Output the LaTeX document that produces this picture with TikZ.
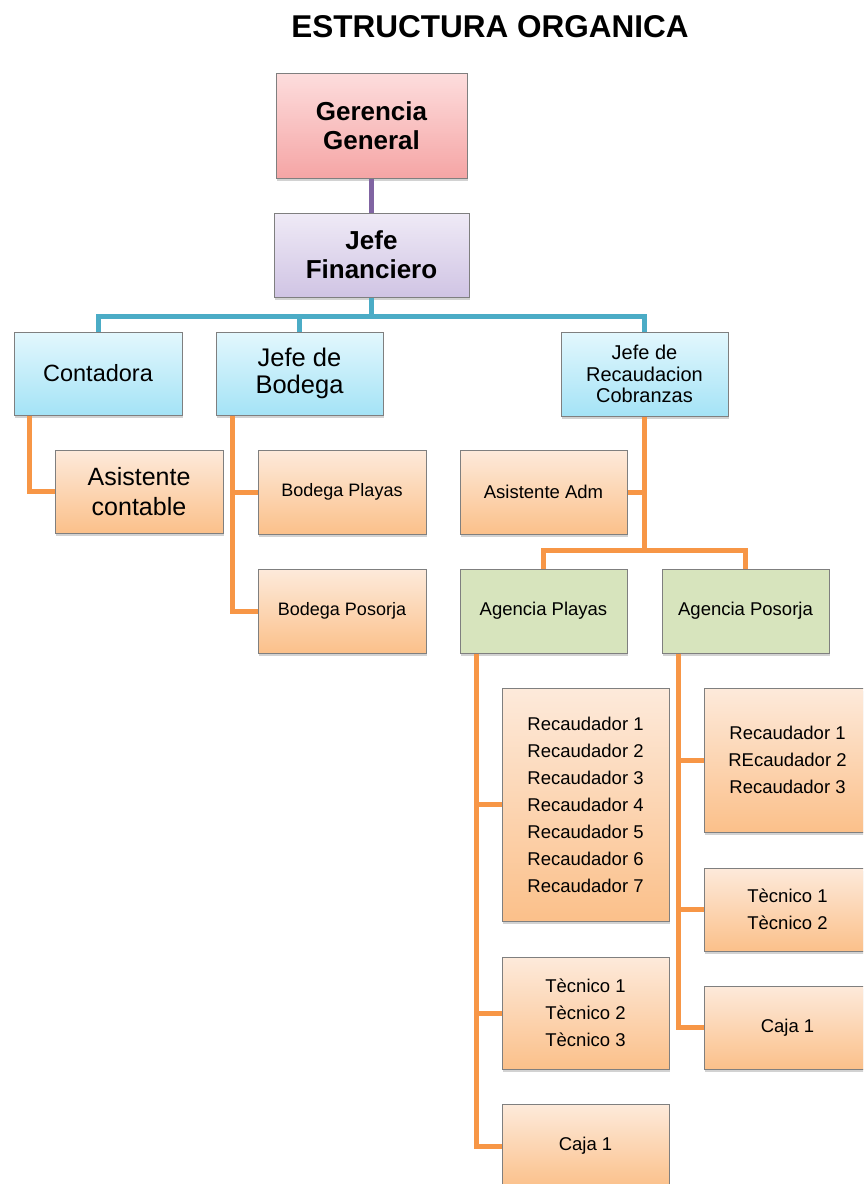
\documentclass[tikz,border=0pt]{standalone}
\usepackage{fontspec}
\setmainfont{Liberation Sans}
\usetikzlibrary{shadows}

\definecolor{boxedge}{HTML}{7F7F7F}
\definecolor{linkblue}{HTML}{4BACC6}
\definecolor{linkorange}{HTML}{F79646}
\definecolor{linkpurple}{HTML}{8064A2}
\definecolor{pinktop}{HTML}{FDDDDD}
\definecolor{pinkbot}{HTML}{F5A5A5}
\definecolor{lavtop}{HTML}{EFEAF6}
\definecolor{lavbot}{HTML}{D0C4E4}
\definecolor{bluetop}{HTML}{E3F7FD}
\definecolor{bluebot}{HTML}{A4E3F6}
\definecolor{orgtop}{HTML}{FDEADB}
\definecolor{orgbot}{HTML}{FBC08A}
\definecolor{greenfill}{HTML}{D7E4BD}

\begin{document}
\begin{tikzpicture}[x=1pt,y=-1pt,
  box/.style={rectangle, draw=boxedge, line width=1pt, align=center, inner sep=2pt,
    minimum width=167pt, minimum height=84pt,
    drop shadow={shadow xshift=1pt, shadow yshift=-3pt, opacity=0.35}},
  pinkbox/.style={box, top color=pinktop, bottom color=pinkbot},
  lavbox/.style={box, top color=lavtop, bottom color=lavbot},
  bluebox/.style={box, top color=bluetop, bottom color=bluebot},
  orgbox/.style={box, top color=orgtop, bottom color=orgbot},
  greenbox/.style={box, fill=greenfill},
  headfont/.style={font=\fontsize{26}{29}\selectfont\bfseries},
  midfont/.style={font=\fontsize{23.5}{27}\selectfont},
  smallfont/.style={font=\fontsize{18.5}{27}\selectfont},
  bline/.style={draw=linkblue, line width=5pt},
  oline/.style={draw=linkorange, line width=5pt},
  pline/.style={draw=linkpurple, line width=5pt}]

\useasboundingbox (0,0) rectangle (863,1184);
\clip (0,0) rectangle (863,1184);
\fill[white] (0,0) rectangle (863,1184);

% title
\node[font=\fontsize{31.5}{36}\selectfont\bfseries] (title) at (490,27) {ESTRUCTURA ORGANICA};

% top of the hierarchy
\node[pinkbox, headfont, minimum width=191pt, minimum height=105pt] (gg) at (371.5,125.5) {Gerencia\\General};
\node[lavbox, headfont, minimum width=195pt] (jf) at (371.5,255) {Jefe\\Financiero};

% departments
\node[bluebox, midfont, minimum width=168pt, minimum height=83pt] (cont) at (98,373.5) {Contadora};
\node[bluebox, font=\fontsize{25.5}{27}\selectfont, minimum height=83pt] (bod) at (299.5,373.5) {Jefe de\\Bodega};
\node[bluebox, font=\fontsize{20}{21.5}\selectfont] (rec) at (644.5,374) {Jefe de\\Recaudacion\\Cobranzas};

% accounting and warehouses
\node[orgbox, font=\fontsize{25}{30}\selectfont, minimum width=168pt, minimum height=83pt] (asis) at (139,491.5) {Asistente\\contable};
\node[orgbox, font=\fontsize{18}{27}\selectfont, minimum width=168pt] (bp) at (342,492) {Bodega Playas};
\node[orgbox, font=\fontsize{18}{27}\selectfont, minimum width=168pt] (bpo) at (342,611) {Bodega Posorja};

% collections
\node[orgbox, smallfont] (adm) at (543.5,492) {Asistente Adm};
\node[greenbox, smallfont] (ap) at (543.5,611) {Agencia Playas};
\node[greenbox, smallfont] (apo) at (745.5,611) {Agencia Posorja};

% Agencia Playas staff
\node[orgbox, smallfont, minimum height=233pt] (rp) at (585.5,804.5)
  {Recaudador 1\\Recaudador 2\\Recaudador 3\\Recaudador 4\\Recaudador 5\\Recaudador 6\\Recaudador 7};
\node[orgbox, smallfont, minimum height=112pt] (tp) at (585.5,1013) {Tècnico 1\\Tècnico 2\\Tècnico 3};
\node[orgbox, smallfont] (cp) at (585.5,1146) {Caja 1};

% Agencia Posorja staff
\node[orgbox, smallfont, minimum height=144pt] (rpo) at (787.5,760) {Recaudador 1\\REcaudador 2\\Recaudador 3};
\node[orgbox, smallfont, minimum height=83pt] (tpo) at (787.5,909.5) {Tècnico 1\\Tècnico 2};
\node[orgbox, smallfont, minimum height=83pt] (cpo) at (787.5,1027.5) {Caja 1};

% junction points
\coordinate (bj) at (371.5,316);
\coordinate (rj) at (644.5,550);

% connectors
\draw[pline] (gg.south) -- (jf.north);

\draw[bline] (jf.south) -- (bj);
\draw[bline] (bj) -| (cont.north);
\draw[bline] (bj) -| (bod.north);
\draw[bline] (bj) -| (rec.north);

\draw[oline] ([xshift=16pt]cont.south west) |- (asis.west);
\draw[oline] ([xshift=17pt]bod.south west) |- (bp.west);
\draw[oline] ([xshift=17pt]bod.south west) |- (bpo.west);

\draw[oline] (rec.south) -- (rj);
\draw[oline] (adm.east) -- (adm.east -| rec.south);
\draw[oline] (rj) -| (ap.north);
\draw[oline] (rj) -| (apo.north);

\draw[oline] ([xshift=17pt]ap.south west) |- (rp.west);
\draw[oline] ([xshift=17pt]ap.south west) |- (tp.west);
\draw[oline] ([xshift=17pt]ap.south west) |- (cp.west);

\draw[oline] ([xshift=17pt]apo.south west) |- (rpo.west);
\draw[oline] ([xshift=17pt]apo.south west) |- (tpo.west);
\draw[oline] ([xshift=17pt]apo.south west) |- (cpo.west);

\end{tikzpicture}
\end{document}
